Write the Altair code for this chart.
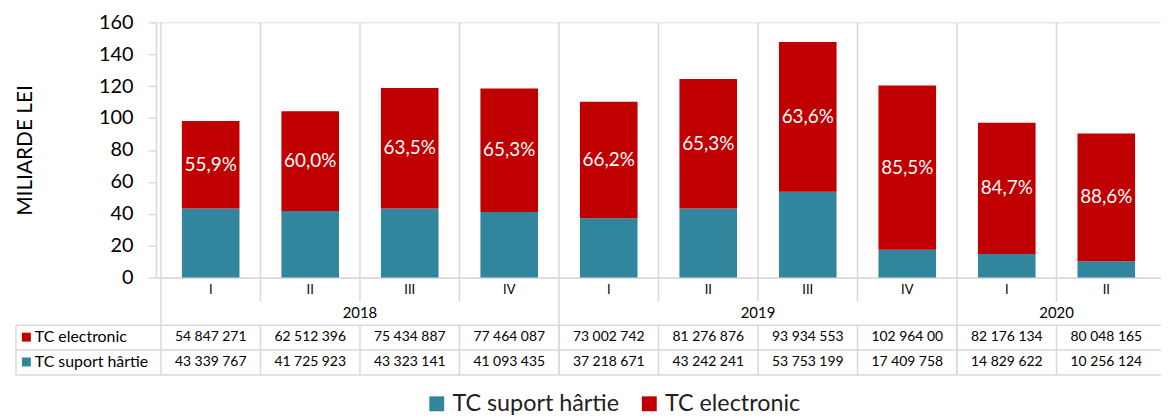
import altair as alt
import pandas as pd

# ---------------- data ----------------
quarters = ["I", "II", "III", "IV", "I", "II", "III", "IV", "I", "II"]
years = ["2018", "2019", "2020"]
year_quarter_counts = [4, 4, 2]
series = ["TC suport hârtie", "TC electronic"]
electronic = [54847271, 62512396, 75434887, 77464087, 73002742,
              81276876, 93934553, 102964000, 82176134, 80048165]
paper = [43339767, 41725923, 43323141, 41093435, 37218671,
         43242241, 53753199, 17409758, 14829622, 10256124]
electronic_text = ["54 847 271", "62 512 396", "75 434 887", "77 464 087", "73 002 742",
                   "81 276 876", "93 934 553", "102 964 00", "82 176 134", "80 048 165"]
paper_text = ["43 339 767", "41 725 923", "43 323 141", "41 093 435", "37 218 671",
              "43 242 241", "53 753 199", "17 409 758", "14 829 622", "10 256 124"]
share_labels = ["55,9%", "60,0%", "63,5%", "65,3%", "66,2%",
                "65,3%", "63,6%", "85,5%", "84,7%", "88,6%"]
y_ticks = [0, 20, 40, 60, 80, 100, 120, 140, 160]

# ---------------- style / layout ----------------
RED = "#C00000"
TEAL = "#31859C"
GRID = "#D9D9D9"
FONT = "Lato"
W, H = 1012, 257
Q_ROW_Y, Q_ROW_BOTTOM = 270, 281
YEAR_Y = 293
TABLE_TOP, ROW1_Y, MID_LINE, ROW2_Y, TABLE_BOTTOM = 305, 317, 330, 342, 355
TABLE_LEFT = -141

n = len(quarters)
pos = [i + 0.5 for i in range(n)]

xs = alt.Scale(domain=[0, n], nice=False, zero=False)
ys = alt.Scale(domain=[0, 160], nice=False)
cs = alt.Scale(domain=series, range=[TEAL, RED])

y_axis = alt.Axis(values=y_ticks, title="MILIARDE LEI", titleFontSize=21,
                  titleFontWeight="normal", titleColor="black", titleFont=FONT,
                  titlePadding=64, labelFontSize=20, labelColor="black",
                  labelFont=FONT, labelPadding=15, tickSize=8, tickColor=GRID,
                  tickWidth=1.5, domainColor=GRID, domainWidth=1.5, grid=False)
x_axis = alt.Axis(title=None, labels=False, ticks=False, grid=False,
                  domainColor=GRID, domainWidth=1.5)

# bars (billions of lei)
rows = []
for i in range(n):
    rows.append({"pos": pos[i], "series": series[0], "val": paper[i] / 1e6, "ord": 0})
    rows.append({"pos": pos[i], "series": series[1], "val": electronic[i] / 1e6, "ord": 1})
bars_df = pd.DataFrame(rows)

bars = alt.Chart(bars_df).mark_bar(size=58).encode(
    x=alt.X("pos:Q", scale=xs, axis=x_axis),
    y=alt.Y("val:Q", stack="zero", scale=ys, axis=y_axis),
    color=alt.Color("series:N", scale=cs,
                    legend=alt.Legend(orient="none", legendX=271, legendY=372,
                                      direction="horizontal", title=None,
                                      symbolType="square", symbolSize=225,
                                      symbolStrokeWidth=0, labelFontSize=23.5,
                                      labelFont=FONT, labelColor="#222222",
                                      labelLimit=400,
                                      labelOffset=4, columnPadding=18)),
    order=alt.Order("ord:Q"),
)

# percent labels in the middle of the electronic segment
pct_df = pd.DataFrame({
    "pos": pos,
    "mid": [paper[i] / 1e6 + electronic[i] / 2e6 for i in range(n)],
    "txt": share_labels,
})
pct = alt.Chart(pct_df).mark_text(color="white", fontSize=19, font=FONT).encode(
    x=alt.X("pos:Q", scale=xs, axis=x_axis),
    y=alt.Y("mid:Q", scale=ys, axis=y_axis),
    text="txt:N",
)

# year grouping
starts = []
acc = 0
for c in year_quarter_counts:
    starts.append(acc)
    acc += c
year_df = pd.DataFrame({
    "pos": [s + c / 2 for s, c in zip(starts, year_quarter_counts)],
    "txt": years,
})
quarter_bounds = [b for b in range(1, n) if b not in starts]

layers = []


def vrule(bounds, y0, y1):
    return alt.Chart(pd.DataFrame({"b": bounds})).mark_rule(
        color=GRID, strokeWidth=1.5).encode(
        x=alt.X("b:Q", scale=xs, axis=x_axis),
        y=alt.value(y0), y2=alt.value(y1))


layers.append(vrule(quarter_bounds, 0, Q_ROW_BOTTOM))
layers.append(vrule(starts, 0, TABLE_BOTTOM))
layers.append(vrule(list(range(1, n)), TABLE_TOP, TABLE_BOTTOM))

# horizontal table lines + left border
for yy in [TABLE_TOP, MID_LINE, TABLE_BOTTOM]:
    layers.append(alt.Chart(pd.DataFrame({"k": [0]})).mark_rule(
        color=GRID, strokeWidth=1.5).encode(
        x=alt.value(TABLE_LEFT), x2=alt.value(W), y=alt.value(yy)))
layers.append(alt.Chart(pd.DataFrame({"k": [0]})).mark_rule(
    color=GRID, strokeWidth=1.5).encode(
    x=alt.value(TABLE_LEFT), y=alt.value(TABLE_TOP), y2=alt.value(TABLE_BOTTOM)))

layers.append(bars)
layers.append(pct)

# quarter and year labels
layers.append(alt.Chart(pd.DataFrame({"pos": pos, "txt": quarters})).mark_text(
    fontSize=13, font=FONT, color="black").encode(
    x=alt.X("pos:Q", scale=xs, axis=x_axis), y=alt.value(Q_ROW_Y), text="txt:N"))
layers.append(alt.Chart(year_df).mark_text(
    fontSize=15, font=FONT, color="black").encode(
    x=alt.X("pos:Q", scale=xs, axis=x_axis), y=alt.value(YEAR_Y), text="txt:N"))

# table values
for texts, yy in [(electronic_text, ROW1_Y), (paper_text, ROW2_Y)]:
    layers.append(alt.Chart(pd.DataFrame({"pos": pos, "txt": texts})).mark_text(
        fontSize=14, font=FONT, color="black").encode(
        x=alt.X("pos:Q", scale=xs, axis=x_axis), y=alt.value(yy), text="txt:N"))

# row headers
for name, col, yy in [(series[1], RED, ROW1_Y), (series[0], TEAL, ROW2_Y)]:
    hdr = pd.DataFrame({"name": [name]})
    layers.append(alt.Chart(hdr).mark_square(size=81, color=col, opacity=1).encode(
        x=alt.value(TABLE_LEFT + 10.5), y=alt.value(yy)))
    layers.append(alt.Chart(hdr).mark_text(
        fontSize=16, font=FONT, color="black", align="left").encode(
        x=alt.value(TABLE_LEFT + 19), y=alt.value(yy), text="name:N"))

chart = alt.layer(*layers).properties(
    width=W, height=H,
    autosize=alt.AutoSizeParams(type="none"),
    padding={"left": 149, "top": 13, "right": 0, "bottom": 141},
).configure_view(stroke=None).configure(font=FONT)

chart.save("out.html", embed_options={"renderer": "svg", "actions": False})
